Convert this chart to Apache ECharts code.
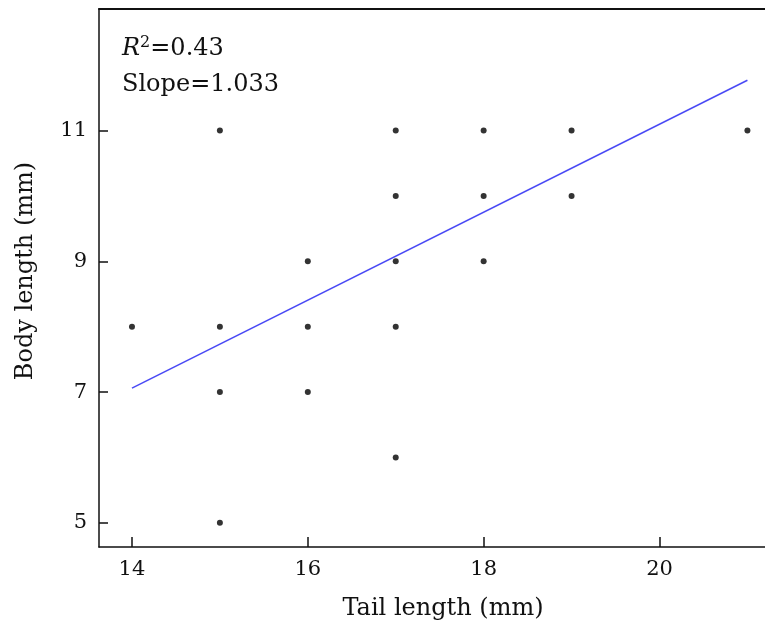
<!DOCTYPE html>
<html><head><meta charset="utf-8">
<script src="https://cdn.jsdelivr.net/npm/echarts@6/dist/echarts.min.js"></script>
<style>html,body{margin:0;padding:0;background:#fff}#c{width:765px;height:627px}</style>
</head><body><div id="c"></div>
<script>
const tailLength = [14, 15, 15, 15, 15, 16, 16, 16, 17, 17, 17, 17, 17, 18, 18, 18, 19, 19, 21];
const bodyLength = [8, 11, 8, 7, 5, 9, 8, 7, 11, 10, 9, 8, 6, 11, 10, 9, 11, 10, 11];
const fitX = [14, 21];
const fitY = [7.06, 11.77];
const xTicks = [14, 16, 18, 20];
const yTicks = [5, 7, 9, 11];
const annotation = ['R²=0.43', 'Slope=1.033'];

const FONT = 'DejaVu Serif';
const chart = echarts.init(document.getElementById('c'));
chart.setOption({
  animation: false,
  backgroundColor: '#fff',
  grid: { left: 99, top: 9, right: 0, bottom: 80, containLabel: false, outerBoundsMode: 'none' },
  xAxis: [{
    type: 'value', min: 13.625, max: 21.2,
    position: 'bottom',
    name: 'Tail length (mm)', nameLocation: 'middle', nameGap: 50,
    nameTextStyle: { fontFamily: FONT, fontSize: 24, color: '#111', padding: [0, 0, 0, 22] },
    axisLine: { show: true, onZero: false, lineStyle: { color: '#111', width: 1.5 } },
    axisTick: { show: true, inside: true, length: 10, lineStyle: { color: '#111', width: 1.5 },
      customValues: xTicks },
    axisLabel: { fontFamily: FONT, fontSize: 21, color: '#111', margin: 12, customValues: xTicks },
    splitLine: { show: false }
  }, {
    type: 'value', min: 13.625, max: 21.2, position: 'top',
    axisLine: { show: true, onZero: false, lineStyle: { color: '#111', width: 2 } },
    axisTick: { show: false }, axisLabel: { show: false }, splitLine: { show: false }
  }],
  yAxis: {
    type: 'value', min: 4.63, max: 12.86,
    name: 'Body length (mm)', nameLocation: 'middle', nameGap: 61, nameRotate: 90,
    nameTextStyle: { fontFamily: FONT, fontSize: 24, color: '#111', padding: [0, 0, 0, 14] },
    axisLine: { show: true, onZero: false, lineStyle: { color: '#111', width: 1.5 } },
    axisTick: { show: true, inside: true, length: 9, lineStyle: { color: '#111', width: 1.5 },
      customValues: yTicks },
    axisLabel: { fontFamily: FONT, fontSize: 21, color: '#111', margin: 12, customValues: yTicks },
    splitLine: { show: false }
  },
  series: [{
    type: 'scatter', symbol: 'circle', symbolSize: 6,
    itemStyle: { color: '#000' },
    data: tailLength.map((x, i) => [x, bodyLength[i]])
  }, {
    type: 'line', symbol: 'none',
    lineStyle: { color: '#4a4af5', width: 1.6 },
    data: fitX.map((x, i) => [x, fitY[i]])
  }],
  graphic: [{
    type: 'text', left: 122, top: 35,
    style: {
      rich: { i: { fontStyle: 'italic', fontFamily: FONT, fontSize: 24, fill: '#111' },
              s: { fontFamily: FONT, fontSize: 16, fill: '#111', verticalAlign: 'top', padding: [0,0,11,0] },
              n: { fontFamily: FONT, fontSize: 24, fill: '#111' } },
      text: '{i|R}{s|2}{n|=0.43}'
    }
  }, {
    type: 'text', left: 122, top: 73,
    style: { text: annotation[1], fontFamily: FONT, fontSize: 24, fill: '#111' }
  }]
});
</script></body></html>
